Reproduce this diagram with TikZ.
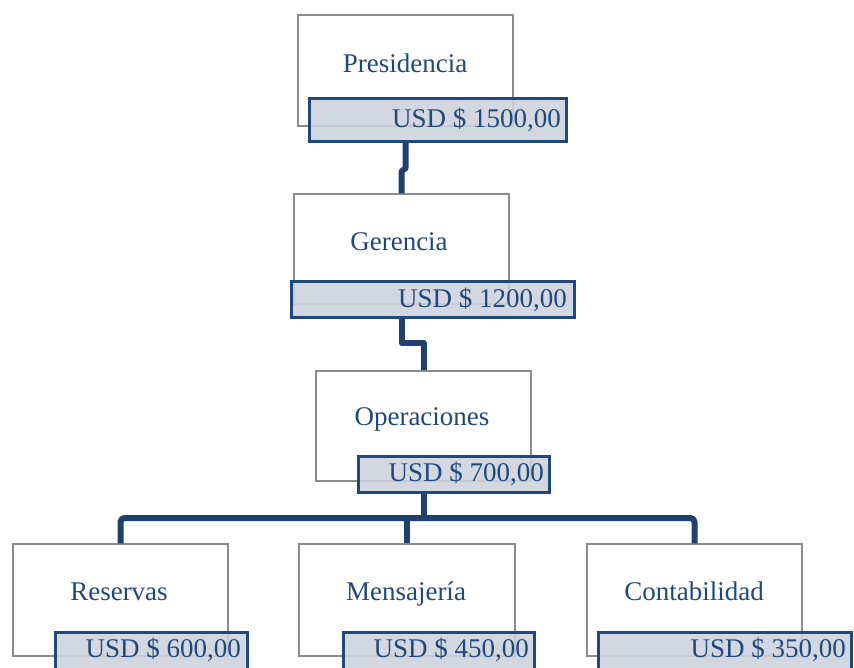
\documentclass[tikz,border=0pt]{standalone}
\usepackage{fontspec}
\setmainfont{Liberation Serif}
\usetikzlibrary{calc}
\definecolor{navy}{HTML}{1F497D}
\definecolor{linkblue}{HTML}{1E4170}
\definecolor{tagfill}{HTML}{CDD2DC}
\begin{document}
\begin{tikzpicture}[x=1pt,y=-1pt,
  unitbox/.style={draw=black!45, line width=1.2pt, fill=white, inner sep=0pt},
  title/.style={text=navy, font=\fontsize{27}{31}\selectfont, anchor=base, inner sep=0pt},
  tag/.style={draw=navy, line width=3.4pt, fill=tagfill, fill opacity=0.88, inner sep=0pt},
  amount/.style={text=navy, font=\fontsize{27}{31}\selectfont, anchor=base east, inner sep=0pt},
  link/.style={draw=linkblue, line width=6pt, line join=round}]
\useasboundingbox (0,0) rectangle (854,667);
\clip (0,0) rectangle (854,667);

% unit boxes
\node[unitbox, minimum width=215, minimum height=111] (pres) at (405.5,70.5) {};
\node[unitbox, minimum width=215, minimum height=110] (ger) at (401.5,249) {};
\node[unitbox, minimum width=215, minimum height=110] (ope) at (423.5,426) {};
\node[unitbox, minimum width=215, minimum height=112] (res) at (120.5,600) {};
\node[unitbox, minimum width=216, minimum height=112] (men) at (407,600) {};
\node[unitbox, minimum width=215, minimum height=112] (con) at (694.5,600) {};

% salary tags
\node[tag, minimum width=257, minimum height=43] (presusd) at (438,120) {};
\node[tag, minimum width=283, minimum height=36] (gerusd) at (433,299.5) {};
\node[tag, minimum width=191, minimum height=36] (opeusd) at (454,474.5) {};
\node[tag, minimum width=192, minimum height=51] (resusd) at (151.5,658) {};
\node[tag, minimum width=191, minimum height=51] (menusd) at (439,658) {};
\node[tag, minimum width=253, minimum height=51] (conusd) at (725,658) {};

% connectors
\coordinate (bus) at (0,518);
\draw[link] (pres.center |- presusd.south) -- ++(0,25) -- ($(ger.north)+(0,-22)$) -- (ger.north);
\draw[link] (ger.center |- gerusd.south) -- ++(0,24) -| (ope.north);
\draw[link] (ope.center |- opeusd.south) -- (ope.center |- bus);
\draw[link, rounded corners=4pt] (res.north) |- (bus -| con.north) -- (con.north);
\draw[link] (men.north) -- (men.north |- bus);

% titles
\node[title] (prest) at (405,72) {Presidencia};
\node[title] (gert) at (399,250) {Gerencia};
\node[title] (opet) at (422,425) {Operaciones};
\node[title] (rest) at (119,600) {Reservas};
\node[title] (ment) at (406,600) {Mensajería};
\node[title] (cont) at (694,600) {Contabilidad};

% amounts
\node[amount] (presa) at (561,127) {USD \$ 1500,00};
\node[amount] (gera) at (567,307) {USD \$ 1200,00};
\node[amount] (opea) at (544,481) {USD \$ 700,00};
\node[amount] (resa) at (241,657) {USD \$ 600,00};
\node[amount] (mena) at (529,657) {USD \$ 450,00};
\node[amount] (cona) at (846,657) {USD \$ 350,00};
\end{tikzpicture}
\end{document}
